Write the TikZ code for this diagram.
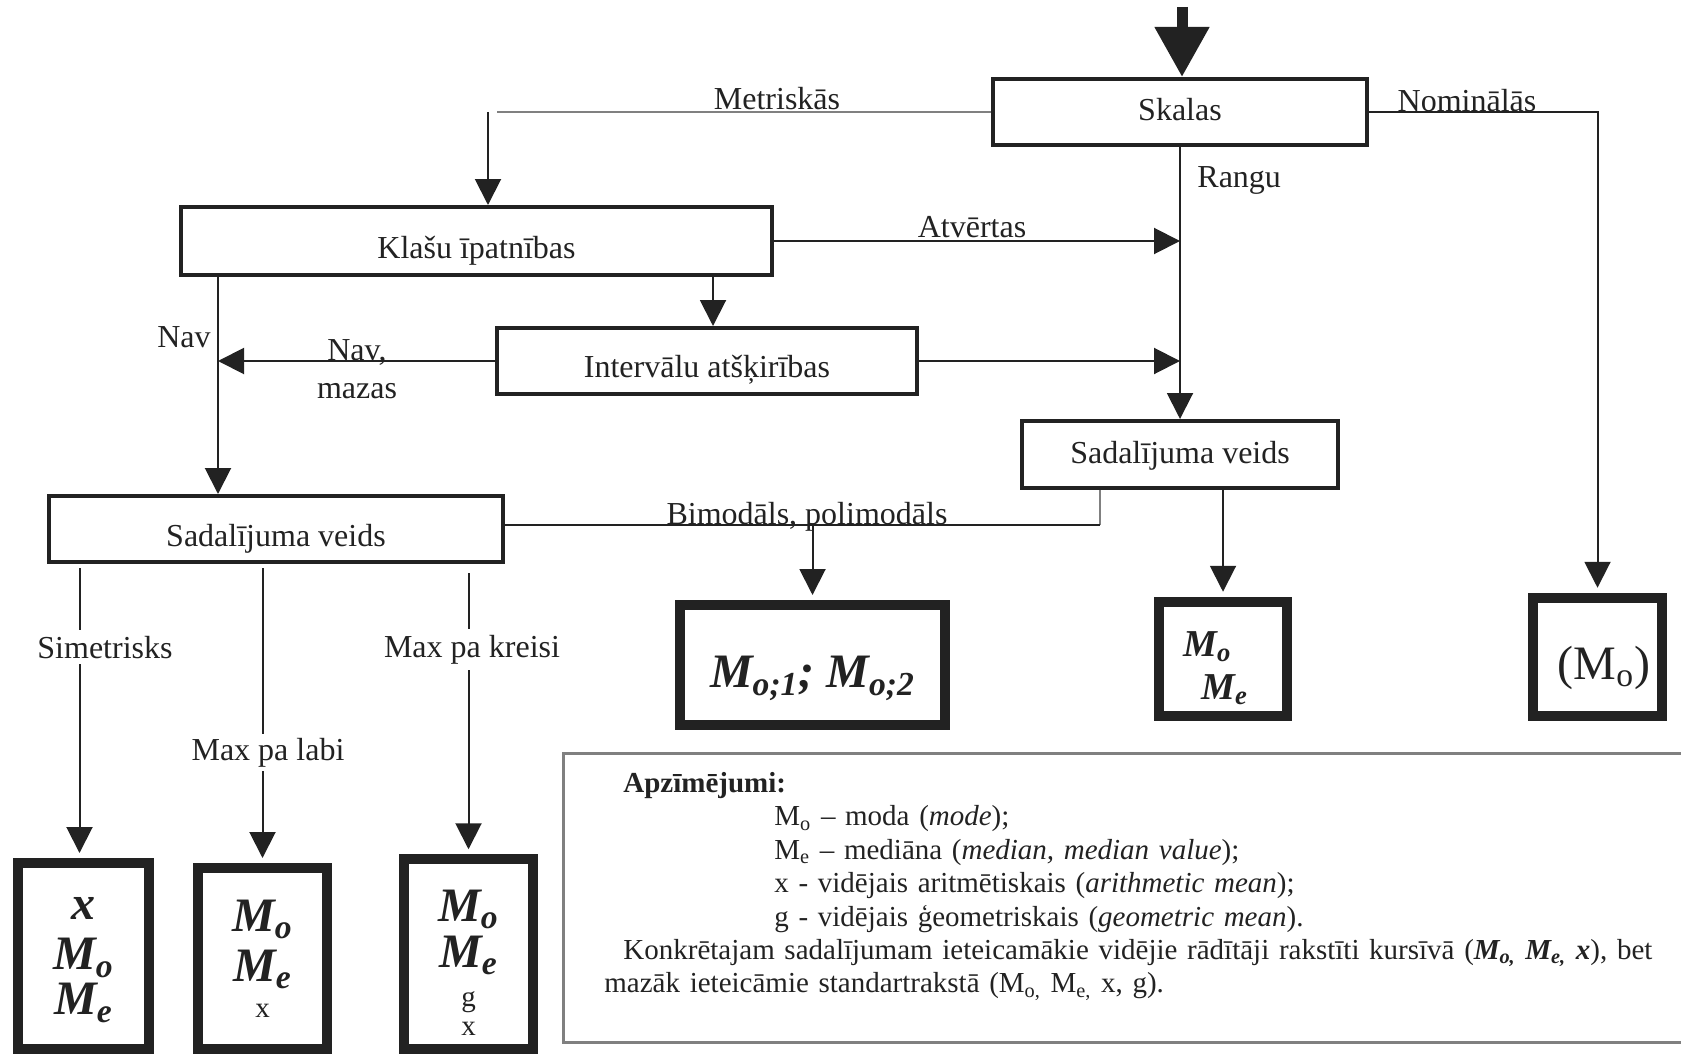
\documentclass[tikz,border=0pt]{standalone}
\usepackage{fontspec}
\setmainfont{Liberation Serif}
\usetikzlibrary{arrows.meta}
\definecolor{ink}{HTML}{222222}
\definecolor{pale}{HTML}{808080}
\newcommand{\Mbi}[1]{\textbf{\textit{M\textsubscript{#1}}}}
\newcommand{\sm}{\fontsize{14.5pt}{16pt}\selectfont}

\begin{document}
\begin{tikzpicture}[x=0.5pt,y=-0.5pt,
  every node/.style={text=ink,inner sep=0pt,font=\fontsize{16pt}{19pt}\selectfont},
  box/.style={draw=ink,line width=2pt,fill=white,text depth=0pt},
  res/.style={draw=ink,line width=5pt,fill=white,align=center,font=\fontsize{24pt}{25pt}\selectfont},
  arr/.style={draw=ink,line width=1pt,-{Triangle[length=13pt,width=13pt]}},
  link/.style={draw=ink,line width=1pt},
  pale link/.style={draw=pale,line width=1pt},
  cut/.style={fill=white,inner xsep=2pt,inner ysep=3pt}]
\useasboundingbox (0,0) rectangle (1681,1054);
\clip (0,0) rectangle (1681,1054);

% Boxes
\node[box,minimum width=187pt,minimum height=33pt,text height=8.8pt] (skalas) at (1180,112) {Skalas};
\node[box,minimum width=295.5pt,minimum height=34pt,text height=17pt] (klasu) at (476.5,241) {Klašu īpatnības};
\node[box,minimum width=210pt,minimum height=33pt,text height=16pt] (interv) at (707,361) {Intervālu atšķirības};
\node[box,minimum width=158pt,minimum height=33.5pt,text height=8.5pt] (sadR) at (1180,454.5) {Sadalījuma veids};
\node[box,minimum width=227pt,minimum height=33pt,text height=17pt] (sadL) at (276,529) {Sadalījuma veids};

% Result boxes
\node[res,minimum width=132.5pt,minimum height=60pt] (rBimod) at (812.5,665)
  {\rule{0pt}{29pt}\textbf{\textit{M\textsubscript{o;1}; M\textsubscript{o;2}}}};
\node[res,minimum width=64.25pt,minimum height=57.25pt,align=left,
  font=\fontsize{19pt}{21.5pt}\selectfont] (rRang) at (1223,659)
  {\rule{0pt}{21.5pt}\Mbi{o}\\\hspace*{9pt}\Mbi{e}\hspace*{7.5pt}};
\node[res,minimum width=64.5pt,minimum height=59.25pt] (rNom) at (1597.5,657)
  {\rule{0pt}{27.5pt}\hspace*{6.4pt}(M\textsubscript{o})};
\node[res,minimum width=65.5pt,minimum height=93pt] (rSim) at (83.5,956)
  {\rule{0pt}{15pt}\textbf{\textit{x}}\\\Mbi{o}\\[-2.5pt]\Mbi{e}};
\node[res,minimum width=64.5pt,minimum height=90.5pt] (rLabi) at (262.5,958.5)
  {\Mbi{o}\\\Mbi{e}\\[-7pt]{\sm x}};
\node[res,minimum width=64.5pt,minimum height=94.75pt] (rKreisi) at (468.5,954)
  {\rule{0pt}{24pt}\Mbi{o}\\[-2pt]\Mbi{e}\\[-5.5pt]{\sm g}\\[-10.5pt]{\sm x}};

% Entry arrow
\coordinate (top) at (1182,7);
\draw[draw=ink,line width=5.5pt,-{Triangle[length=25pt,width=26pt]}] (top) -- (top |- skalas.north);

% Scales
\coordinate (metr) at (488,112);
\draw[pale link] (skalas.west) -- ([xshift=4.5pt]metr);
\draw[arr] (metr) -- (metr |- klasu.north);
\draw[arr,shorten >=2.5pt] (skalas.east) -| (rNom.north);
\draw[arr] (skalas.south) -- (sadR.north);

% Classes
\coordinate (nav) at ([xshift=19.5pt]klasu.south west);
\draw[arr] (klasu.east) -- (klasu.east -| skalas.south);
\draw[arr] ([xshift=3pt]klasu.south -| interv.north) -- ([xshift=3pt]interv.north);
\draw[arr] (nav) -- (nav |- sadL.north);
\draw[arr] (interv.west) -- (interv.west -| nav);
\draw[arr] (interv.east) -- (interv.east -| skalas.south);

% Distribution
\coordinate (bm) at ([xshift=40pt,yshift=2pt]sadR.south west |- sadL.east);
\draw[pale link] ([xshift=40pt]sadR.south west) -- (bm);
\draw[link] (bm) -- (bm -| sadL.east);
\draw[arr,shorten >=2.5pt] (rBimod.north |- bm) -- (rBimod.north);
\draw[arr,shorten >=2.5pt] (rRang.north |- sadR.south) -- (rRang.north);
\draw[arr,shorten >=2.5pt,shorten <=2pt] ([xshift=-2pt]rSim.north |- sadL.south) -- ([xshift=-2pt]rSim.north);
\draw[arr,shorten >=2.5pt,shorten <=2pt] (rLabi.north |- sadL.south) -- (rLabi.north);
\draw[arr,shorten >=2.5pt,shorten <=4.5pt] (rKreisi.north |- sadL.south) -- (rKreisi.north);

% Labels
\node[anchor=base] (lMetr) at (777,110) {Metriskās};
\node[anchor=base] (lNom) at (1467,112) {Nominālās};
\node[anchor=base west] (lRang) at (1197,187) {Rangu};
\node[anchor=base] (lAtv) at (972,237) {Atvērtas};
\node[anchor=base] (lNav) at (184,347) {Nav};
\node[anchor=base,align=center] (lMaz) at (357,398) {Nav,\\mazas};
\node[anchor=base] (lBimod) at (807,524) {Bimodāls, polimodāls};
\node[cut,anchor=base] (lSim) at (105,658) {Simetrisks};
\node[cut,anchor=base,inner ysep=2pt] (lLabi) at (268,760) {Max pa labi};
\node[cut,anchor=base] (lKreisi) at (472,657) {Max pa kreisi};

% Legend
\draw[draw=pale,line width=1.5pt] (563,753) rectangle (1720,1042);
\node[anchor=north west,text width=530pt,align=left,
  font=\fontsize{14.5pt}{16.7pt}\selectfont] (legend) at (604,772)
  {\hspace*{9.5pt}\textbf{Apzīmējumi:}\\
   \hspace*{85pt}M\textsubscript{o} – moda (\textit{mode});\\
   \hspace*{85pt}M\textsubscript{e} – mediāna (\textit{median, median value});\\
   \hspace*{85pt}x - vidējais aritmētiskais (\textit{arithmetic mean});\\
   \hspace*{85pt}g - vidējais ģeometriskais (\textit{geometric mean}).\\
   \hspace*{9.5pt}\makebox[520.5pt][s]{Konkrētajam sadalījumam ieteicamākie vidējie rādītāji rakstīti kursīvā (\textbf{\textit{M\textsubscript{o,} M\textsubscript{e,} x}}), bet}\\
   mazāk ieteicāmie standartrakstā (M\textsubscript{o,} M\textsubscript{e,} x, g).};
\end{tikzpicture}
\end{document}
